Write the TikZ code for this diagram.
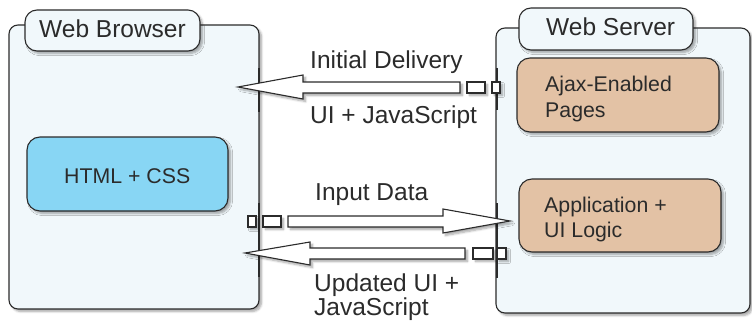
\documentclass[tikz,border=0pt]{standalone}
\usepackage{fontspec}
\setmainfont{Liberation Sans}
\usetikzlibrary{shadows.blur}
\definecolor{panelfill}{HTML}{F1F8FB}
\definecolor{htmlfill}{HTML}{88D6F4}
\definecolor{tanfill}{HTML}{E3C2A5}
\definecolor{edge}{HTML}{2B2B2B}
\tikzset{
  shad/.style={blur shadow={shadow xshift=2.5pt, shadow yshift=-2.5pt, shadow blur steps=6, shadow opacity=35}},
  panel/.style={draw=edge, line width=1.1pt, fill=panelfill, rounded corners=9pt, shad},
  tab/.style={draw=edge, line width=1.1pt, fill=panelfill, rounded corners=12pt, shad},
  inner/.style={draw=edge, line width=1.1pt, rounded corners=13pt, shad},
  blockarrow/.style={draw=edge, line width=1.1pt, fill=white, line join=miter, shad},
  portbox/.style={draw=edge, line width=1.1pt, fill=white, shad},
  port/.style={draw=edge, line width=2pt},
  big/.style={font=\fontsize{24.5}{28}\selectfont, inner sep=0pt, anchor=base west, text=edge},
  small/.style={font=\fontsize{21.3}{26}\selectfont, inner sep=0pt, anchor=base west, text=edge},
}
\begin{document}
\begin{tikzpicture}[x=1pt,y=-1pt]
\useasboundingbox (0,0) rectangle (752,321);
% panels
\path[panel] (9,25) rectangle (259,309);
\path[panel] (496,28) rectangle (750,313);
\coordinate (bwA) at (259,68); \coordinate (bwB) at (259,112);
\coordinate (bwC) at (259,203); \coordinate (bwD) at (259,277);
\coordinate (svA) at (497,68); \coordinate (svB) at (497,110);
\coordinate (svC) at (497,203); \coordinate (svD) at (497,278);
\draw[port] (bwA) -- (bwB);
\draw[port] (bwC) -- (bwD);
\draw[port] (svA) -- (svB);
\draw[port] (svC) -- (svD);
% tabs
\node[tab, minimum width=175pt, minimum height=41pt] (btab) at (112.5,30.5) {};
\node[tab, minimum width=174pt, minimum height=42pt] (stab) at (606,29) {};
\node[big] (btabt) at (39,37.3) {Web Browser};
\node[big] (stabt) at (546,36) {Web Server};
% inner boxes
\node[inner, fill=htmlfill, minimum width=201pt, minimum height=74pt] (html) at (127.5,174) {};
\node[inner, fill=tanfill, minimum width=202pt, minimum height=74pt] (ajax) at (618,95) {};
\node[inner, fill=tanfill, minimum width=202pt, minimum height=73pt] (app) at (620,215.5) {};
\node[small] (htmlt) at (64,183) {HTML + CSS};
\node[small] (ajaxt1) at (545,91) {Ajax-Enabled};
\node[small] (ajaxt2) at (545,117) {Pages};
\node[small] (appt1) at (544,212) {Application +};
\node[small] (appt2) at (544,237) {UI Logic};
% top arrow (server -> browser)
\path[blockarrow] (238,87) -- (303,75) -- (303,82) -- (460,82) -- (460,93) -- (303,93) -- (303,99) -- cycle;
\path[portbox] (467,82) rectangle (485,93);
\path[portbox] (492,82) rectangle (500,93);
% input arrow (browser -> server)
\path[blockarrow] (510,221) -- (443,209) -- (443,216) -- (288,216) -- (288,227) -- (443,227) -- (443,233) -- cycle;
\path[portbox] (263,216) rectangle (281,227);
\path[portbox] (248,216) rectangle (256,227);
% updated arrow (server -> browser)
\path[blockarrow] (245,253) -- (310,242) -- (310,248) -- (465,248) -- (465,259) -- (310,259) -- (310,265) -- cycle;
\path[portbox] (473,248) rectangle (493,259);
\path[portbox] (497,248) rectangle (506,259);
% labels
\node[big] (l1) at (310,68) {Initial Delivery};
\node[big] (l2) at (310,123) {UI + JavaScript};
\node[big] (l3) at (315,200) {Input Data};
\node[big] (l4) at (314,291) {Updated UI +};
\node[big] (l5) at (314,315) {JavaScript};
\end{tikzpicture}
\end{document}
